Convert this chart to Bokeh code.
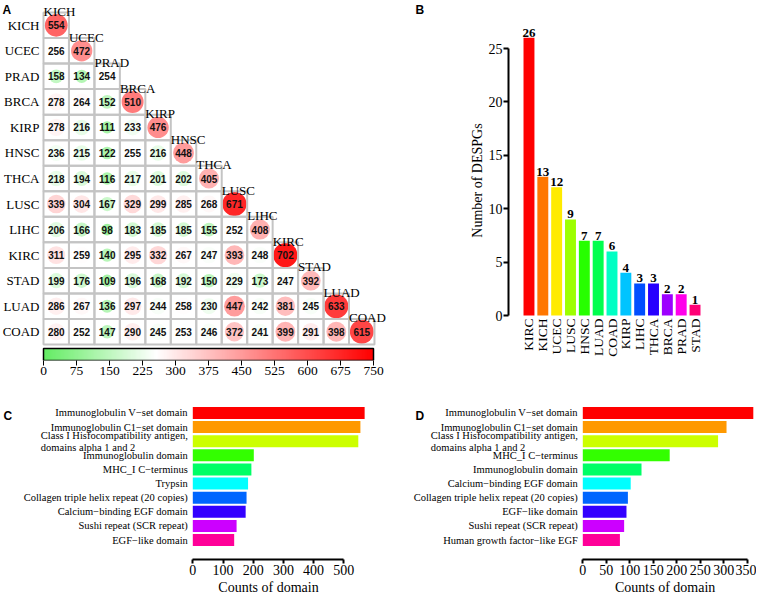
import numpy as np
from bokeh.plotting import figure
from bokeh.models import (ColumnDataSource, Range1d, FactorRange, FixedTicker,
                          LinearColorMapper, LinearAxis, Title)
from bokeh.layouts import column, row
from bokeh.transform import transform
from bokeh.core.properties import value
from bokeh.embed import file_html
from bokeh.resources import INLINE

SERIF = "Liberation Serif"
SANS = "Liberation Sans"

# ---------------- data: panel A (lower-triangular overlap matrix) ----------------
cancers = ["KICH", "UCEC", "PRAD", "BRCA", "KIRP", "HNSC", "THCA",
           "LUSC", "LIHC", "KIRC", "STAD", "LUAD", "COAD"]
row_KICH = [554]
row_UCEC = [256, 472]
row_PRAD = [158, 134, 254]
row_BRCA = [278, 264, 152, 510]
row_KIRP = [278, 216, 111, 233, 476]
row_HNSC = [236, 215, 122, 255, 216, 448]
row_THCA = [218, 194, 116, 217, 201, 202, 405]
row_LUSC = [339, 304, 167, 329, 299, 285, 268, 671]
row_LIHC = [206, 166, 98, 183, 185, 185, 155, 252, 408]
row_KIRC = [311, 259, 140, 295, 332, 267, 247, 393, 248, 702]
row_STAD = [199, 176, 109, 196, 168, 192, 150, 229, 173, 247, 392]
row_LUAD = [286, 267, 136, 297, 244, 258, 230, 447, 242, 381, 245, 633]
row_COAD = [280, 252, 147, 290, 245, 253, 246, 372, 241, 399, 291, 398, 615]
overlap_rows = [row_KICH, row_UCEC, row_PRAD, row_BRCA, row_KIRP, row_HNSC, row_THCA,
                row_LUSC, row_LIHC, row_KIRC, row_STAD, row_LUAD, row_COAD]
cbar_ticks = [0, 75, 150, 225, 300, 375, 450, 525, 600, 675, 750]

# ---------------- data: panel B ----------------
b_cats = ["KIRC", "KICH", "UCEC", "LUSC", "HNSC", "LUAD", "COAD",
          "KIRP", "LIHC", "THCA", "BRCA", "PRAD", "STAD"]
b_vals = [26, 13, 12, 9, 7, 7, 6, 4, 3, 3, 2, 2, 1]
b_colors = ["#FF0000", "#FF7600", "#FFEB00", "#9DFF00", "#27FF00", "#00FF4E", "#00FFC4",
            "#00C4FF", "#004EFF", "#2700FF", "#9D00FF", "#FF00EB", "#FF0076"]
b_ticks = [0, 5, 10, 15, 20, 25]

# ---------------- data: panels C and D ----------------
CLASS_I = "Class I Hisfocompatibility antigen,\ndomains alpha 1 and 2"
c_domains = ["Immunoglobulin V\u2212set domain", "Immunoglobulin C1\u2212set domain", CLASS_I,
             "Immunoglobulin domain", "MHC_I C\u2212terminus", "Trypsin",
             "Collagen triple helix repeat (20 copies)", "Calcium\u2212binding EGF domain",
             "Sushi repeat (SCR repeat)", "EGF\u2212like domain"]
c_vals = [569, 555, 548, 202, 194, 183, 178, 175, 145, 137]
c_ticks = [0, 100, 200, 300, 400, 500]

d_domains = ["Immunoglobulin V\u2212set domain", "Immunoglobulin C1\u2212set domain", CLASS_I,
             "MHC_I C\u2212terminus", "Immunoglobulin domain", "Calcium\u2212binding EGF domain",
             "Collagen triple helix repeat (20 copies)", "EGF\u2212like domain",
             "Sushi repeat (SCR repeat)", "Human growth factor\u2212like EGF"]
d_vals = [363, 306, 288, 185, 125, 102, 96, 93, 88, 79]
d_ticks = [0, 50, 100, 150, 200, 250, 300, 350]

colors10 = ["#FF0000", "#FF9900", "#CCFF00", "#33FF00", "#00FF66",
            "#00FFFF", "#0066FF", "#3300FF", "#CC00FF", "#FF0099"]


# ---------------- colour map (green - white - red) ----------------
def _lerp(c1, c2, t):
    return tuple(int(round(a + (b - a) * t)) for a, b in zip(c1, c2))


GREEN, WHITE, RED = (100, 236, 100), (255, 255, 255), (255, 0, 0)
WHITE_AT = 255.0
palette = []
for i in range(256):
    v = 750.0 * i / 255
    if v <= WHITE_AT:
        c = _lerp(GREEN, WHITE, v / WHITE_AT)
    else:
        c = _lerp(WHITE, RED, (v - WHITE_AT) / (750.0 - WHITE_AT))
    palette.append("#%02x%02x%02x" % c)
mapper = LinearColorMapper(palette=palette, low=0, high=750)


def clean(p):
    p.outline_line_color = None
    p.xgrid.grid_line_color = None
    p.ygrid.grid_line_color = None
    p.background_fill_color = "white"
    p.border_fill_color = "white"


def style_num_axis(ax, ticks, bound, font_size):
    ax.ticker = FixedTicker(ticks=ticks)
    ax.bounds = (0, bound)
    ax.axis_line_width = 2
    ax.axis_line_color = "black"
    ax.major_tick_line_width = 2
    ax.major_tick_line_color = "black"
    ax.major_tick_in = 0
    ax.minor_tick_line_color = None
    ax.major_label_text_font = SERIF
    ax.major_label_text_font_size = font_size
    ax.major_label_text_color = "black"
    ax.axis_label_text_font = SERIF
    ax.axis_label_text_font_style = "normal"
    ax.axis_label_text_color = "black"


TOP_H = 385          # height of the upper row
TOP_BOTTOM = 25      # bottom border of the upper row (colour-bar tick labels)

# ================= Panel A: heat map + colour bar =================
n = len(cancers)
CW, CH = 25.46, 25.54          # cell size in px
GX0, GY0 = 43.0, 12.0          # grid top-left in px
A_W = 425
FRAME_H = TOP_H - TOP_BOTTOM   # 360
ax0 = 0.5 - GX0 / CW
ax1 = 0.5 + (A_W - GX0) / CW
ay1 = n + 0.5 + GY0 / CH
ay0 = 0.5 - (FRAME_H - GY0 - n * CH) / CH
CB_H = 12.0 / CH               # colour bar height in y units
CB_PX = 330.0 / 750.0          # colour bar px per value

xs, ys, vs, rs = [], [], [], []
for i, vals in enumerate(overlap_rows):
    for j, v in enumerate(vals):
        xs.append(j + 1)
        ys.append(n - i)
        vs.append(v)
        rs.append(min(0.95, 0.145 + 0.0318 * np.sqrt(v)) / 2.0)
srcA = ColumnDataSource(dict(x=xs, y=ys, v=vs, r=rs, t=[str(v) for v in vs]))

pa = figure(width=A_W, height=TOP_H, x_range=Range1d(ax0, ax1), y_range=Range1d(ay0, ay1),
            output_backend="svg", toolbar_location=None,
            min_border_left=0, min_border_right=0, min_border_top=0,
            min_border_bottom=TOP_BOTTOM)
clean(pa)
pa.xaxis.visible = False
pa.yaxis.visible = False
pa.extra_x_ranges = {"cb": Range1d(-GX0 / CB_PX, (A_W - GX0) / CB_PX)}

pa.circle("x", "y", radius="r", source=srcA, fill_color=transform("v", mapper), line_color=None)
pa.rect("x", "y", width=1, height=1, source=srcA, fill_color=None,
        line_color="#c4c4c4", line_width=2)
pa.text("x", "y", text="t", source=srcA, text_align="center", text_baseline="middle",
        text_font=value(SANS), text_font_style="bold", text_font_size="10px",
        text_color="#111111")
colsrc = ColumnDataSource(dict(x=[c + 0.5 for c in range(n)],
                               y=[n - c + 0.5 for c in range(n)], t=cancers))
pa.text("x", "y", text="t", source=colsrc, text_align="left", text_baseline="alphabetic",
        y_offset=-1, text_font=value(SERIF), text_font_size="13px", text_color="black")
rowsrc = ColumnDataSource(dict(x=[0.5] * n, y=[n - i for i in range(n)], t=cancers))
pa.text("x", "y", text="t", source=rowsrc, text_align="right", text_baseline="middle",
        x_offset=-4, text_font=value(SERIF), text_font_size="13px", text_color="black")
pa.text(x=[ax0, ax0 + 415.0 / CW], y=[ay1, ay1], text=["A", "B"], x_offset=[2, 0], y_offset=2,
        text_align="left", text_baseline="top", text_font=value(SANS),
        text_font_style="bold", text_font_size="12px", text_color="black")

# colour bar: gradient image + outline on the "cb" scale, with its own axis below
pa.image(image=[np.linspace(0, 750, 400).reshape(1, -1)], x=0, y=ay0, dw=750, dh=CB_H,
         color_mapper=mapper, x_range_name="cb")
pa.rect(x=[375], y=[ay0 + CB_H / 2], width=750, height=CB_H, x_range_name="cb",
        fill_color=None, line_color="black", line_width=1.5)
cb_axis = LinearAxis(x_range_name="cb", ticker=FixedTicker(ticks=cbar_ticks), bounds=(0, 750))
cb_axis.axis_line_color = None
cb_axis.major_tick_out = 5
cb_axis.major_tick_in = 0
cb_axis.major_tick_line_color = "black"
cb_axis.minor_tick_line_color = None
cb_axis.major_label_standoff = 1
cb_axis.major_label_text_font = SERIF
cb_axis.major_label_text_font_size = "13.5px"
cb_axis.major_label_text_color = "black"
pa.add_layout(cb_axis, "below")

# ================= Panel B =================
B_PX = 10.68                   # px per unit
B_ZERO = 315.0                 # y of zero in px
pb = figure(width=331, height=TOP_H,
            x_range=FactorRange(factors=b_cats, range_padding=0.98, range_padding_units="absolute"),
            y_range=Range1d(-(FRAME_H - B_ZERO) / B_PX, B_ZERO / B_PX),
            output_backend="svg", toolbar_location=None,
            min_border_left=83, min_border_right=41, min_border_top=0,
            min_border_bottom=TOP_BOTTOM)
clean(pb)
pb.xaxis.visible = False
srcB = ColumnDataSource(dict(x=b_cats, top=b_vals, c=b_colors, t=[str(v) for v in b_vals],
                             z=[0] * len(b_cats)))
pb.vbar(x="x", top="top", bottom=0, width=0.79, source=srcB, fill_color="c", line_color=None)
pb.text(x="x", y="top", text="t", source=srcB, text_align="center", text_baseline="bottom",
        y_offset=-1, text_font=value(SERIF), text_font_style="bold", text_font_size="13px",
        text_color="black")
pb.text(x="x", y="z", text="x", source=srcB, angle=np.pi / 2, y_offset=3,
        text_align="right", text_baseline="middle", text_font=value(SERIF),
        text_font_size="13.5px", text_color="black")
style_num_axis(pb.yaxis, b_ticks, 25, "14px")
pb.yaxis.major_tick_out = 5
pb.yaxis.major_label_standoff = 1
pb.yaxis.axis_label = "Number of DESPGs"
pb.yaxis.axis_label_text_font_size = "14px"
pb.yaxis.axis_label_standoff = 1

TITLE_HALF_W = 50   # half width (px) of "Counts of domain" at 14px


# ================= Panels C and D =================
def domain_panel(domains, vals, ticks, bound, width, zero_px, px_per_unit, lab_letter, lab_dx):
    x0 = -zero_px / px_per_unit
    x1 = (width - zero_px) / px_per_unit
    p = figure(width=width, height=211, x_range=Range1d(x0, x1),
               y_range=FactorRange(factors=domains[::-1], range_padding=0.875,
                                   range_padding_units="absolute"),
               output_backend="svg", toolbar_location=None,
               min_border_left=0, min_border_right=0, min_border_top=8, min_border_bottom=37)
    clean(p)
    p.yaxis.visible = False
    src = ColumnDataSource(dict(y=domains, right=vals, c=colors10))
    p.hbar(y="y", left=0, right="right", height=0.85, source=src, fill_color="c", line_color=None)
    singles = [d for d in domains if d != CLASS_I]
    p.text(x=[0] * len(singles), y=singles, text=singles, x_offset=-5, text_align="right",
           text_baseline="middle", text_font=value(SERIF), text_font_size="10.5px",
           text_color="black")
    p.text(x=[0], y=[CLASS_I], text=[CLASS_I], x_offset=-152, text_align="left",
           text_baseline="middle", text_line_height=1.1, text_font=value(SERIF),
           text_font_size="10.5px", text_color="black")
    p.text(x=[x0], y=[domains[0]], text=[lab_letter], x_offset=lab_dx,
           y_offset=3, text_align="left", text_baseline="middle", text_font=value(SANS),
           text_font_style="bold", text_font_size="12px", text_color="black")
    style_num_axis(p.xaxis, ticks, bound, "14px")
    p.xaxis.major_tick_out = 4
    p.xaxis.major_label_standoff = 1
    # axis title centred under the bounded axis (not under the whole frame)
    left_px = zero_px + bound * px_per_unit / 2.0 - TITLE_HALF_W
    p.add_layout(Title(text="Counts of domain", align="left", offset=left_px, standoff=0,
                       text_font=SERIF, text_font_size="14px", text_font_style="normal",
                       text_color="black"), "below")
    return p


pc = domain_panel(c_domains, c_vals, c_ticks, 500, 385, 192.3, 0.302, "C", 3)
pd_ = domain_panel(d_domains, d_vals, d_ticks, 350, 371, 197.3, 0.4697, "D", 30)

layout = column(row(pa, pb), row(pc, pd_))
open("out.html", "w").write(file_html(layout, INLINE))
